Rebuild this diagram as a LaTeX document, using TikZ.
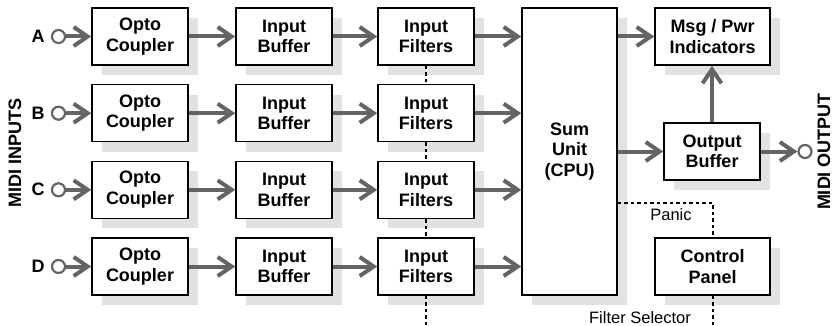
\documentclass[tikz,border=0pt]{standalone}
\usepackage{fontspec}
\setmainfont{Liberation Sans}
\usetikzlibrary{arrows.meta,shadows}
\definecolor{arrgray}{RGB}{100,100,100}
\definecolor{shgray}{RGB}{226,226,226}
\tikzset{
  blk/.style={draw=black, line width=1.5pt, fill=white, inner sep=0pt,
    minimum height=57pt, align=center,
    font=\bfseries\fontsize{18}{20.5}\selectfont,
    general shadow={shadow xshift=10pt, shadow yshift=-10pt, fill=shgray, draw=none}},
  sblk/.style={blk, minimum width=96pt},
  wblk/.style={blk, minimum width=115pt},
  flow/.style={draw=arrgray, line width=4pt, -{Straight Barb[length=14pt,width=19pt]}},
  jack/.style={circle, draw=arrgray, line width=2.2pt, fill=white, minimum size=13pt, inner sep=0pt},
  dots/.style={draw=black, line width=1.9pt, dash pattern=on 3.5pt off 3pt},
  lbl/.style={font=\bfseries\fontsize{18}{20}\selectfont, inner sep=0pt},
  small/.style={font=\fontsize{16.5}{19}\selectfont, inner sep=0pt}
}
\begin{document}
\begin{tikzpicture}[x=1pt,y=-1pt]
\useasboundingbox (0,0) rectangle (834,326);
% rows
\foreach \r/\y in {A/36.5,B/113.2,C/189.8,D/266.5}{
  \node[lbl] (l\r) at (38,\y) {\r};
  \node[jack] (j\r) at (58.5,\y) {};
  \node[sblk] (o\r) at (140,\y) {Opto\\Coupler};
  \node[sblk] (b\r) at (284,\y) {Input\\Buffer};
  \node[sblk] (f\r) at (426,\y) {Input\\Filters};
}
\node[blk, minimum width=95pt, minimum height=287pt] (sum) at (569.5,151.5) {Sum\\Unit\\(CPU)};
\node[wblk] (msg) at (712.5,36.5) {Msg / Pwr\\Indicators};
\node[sblk] (ob) at (712,151.5) {Output\\Buffer};
\node[wblk] (cp) at (712.5,266.5) {Control\\Panel};
\node[jack] (jo) at (805,151.5) {};
\node[lbl, rotate=90] (mi) at (15,153) {MIDI INPUTS};
\node[lbl, rotate=90] (mo) at (824,151.5) {MIDI OUTPUT};
% arrows
\foreach \r in {A,B,C,D}{
  \draw[flow] (j\r.east) -- (o\r.west);
  \draw[flow] (o\r.east) -- (b\r.west);
  \draw[flow] (b\r.east) -- (f\r.west);
  \draw[flow] (f\r.east) -- (f\r.east -| sum.west);
}
\draw[flow] (sum.east |- msg.west) -- (msg.west);
\draw[flow] (sum.east |- ob.west) -- (ob.west);
\draw[flow] (ob.north) -- (ob.north |- msg.south);
\draw[flow] (ob.east) -- (jo.west);
% dotted control lines
\coordinate (fbot) at (426,326);
\coordinate (cbot) at (713,326);
\coordinate (pn) at (sum.east |- 0,203);
\coordinate (pc) at (713,203);
\draw[dots] (fA.south) -- (fB.north);
\draw[dots] (fB.south) -- (fC.north);
\draw[dots] (fC.south) -- (fD.north);
\draw[dots] (fD.south) -- (fbot);
\draw[dots] (pn) -- (pc) -- (pc |- cp.north);
\draw[dots] (pc |- cp.south) -- (cbot);
\node[small] (panic) at (671,215) {Panic};
\node[small] (fsel) at (640,318) {Filter Selector};
\end{tikzpicture}
\end{document}
